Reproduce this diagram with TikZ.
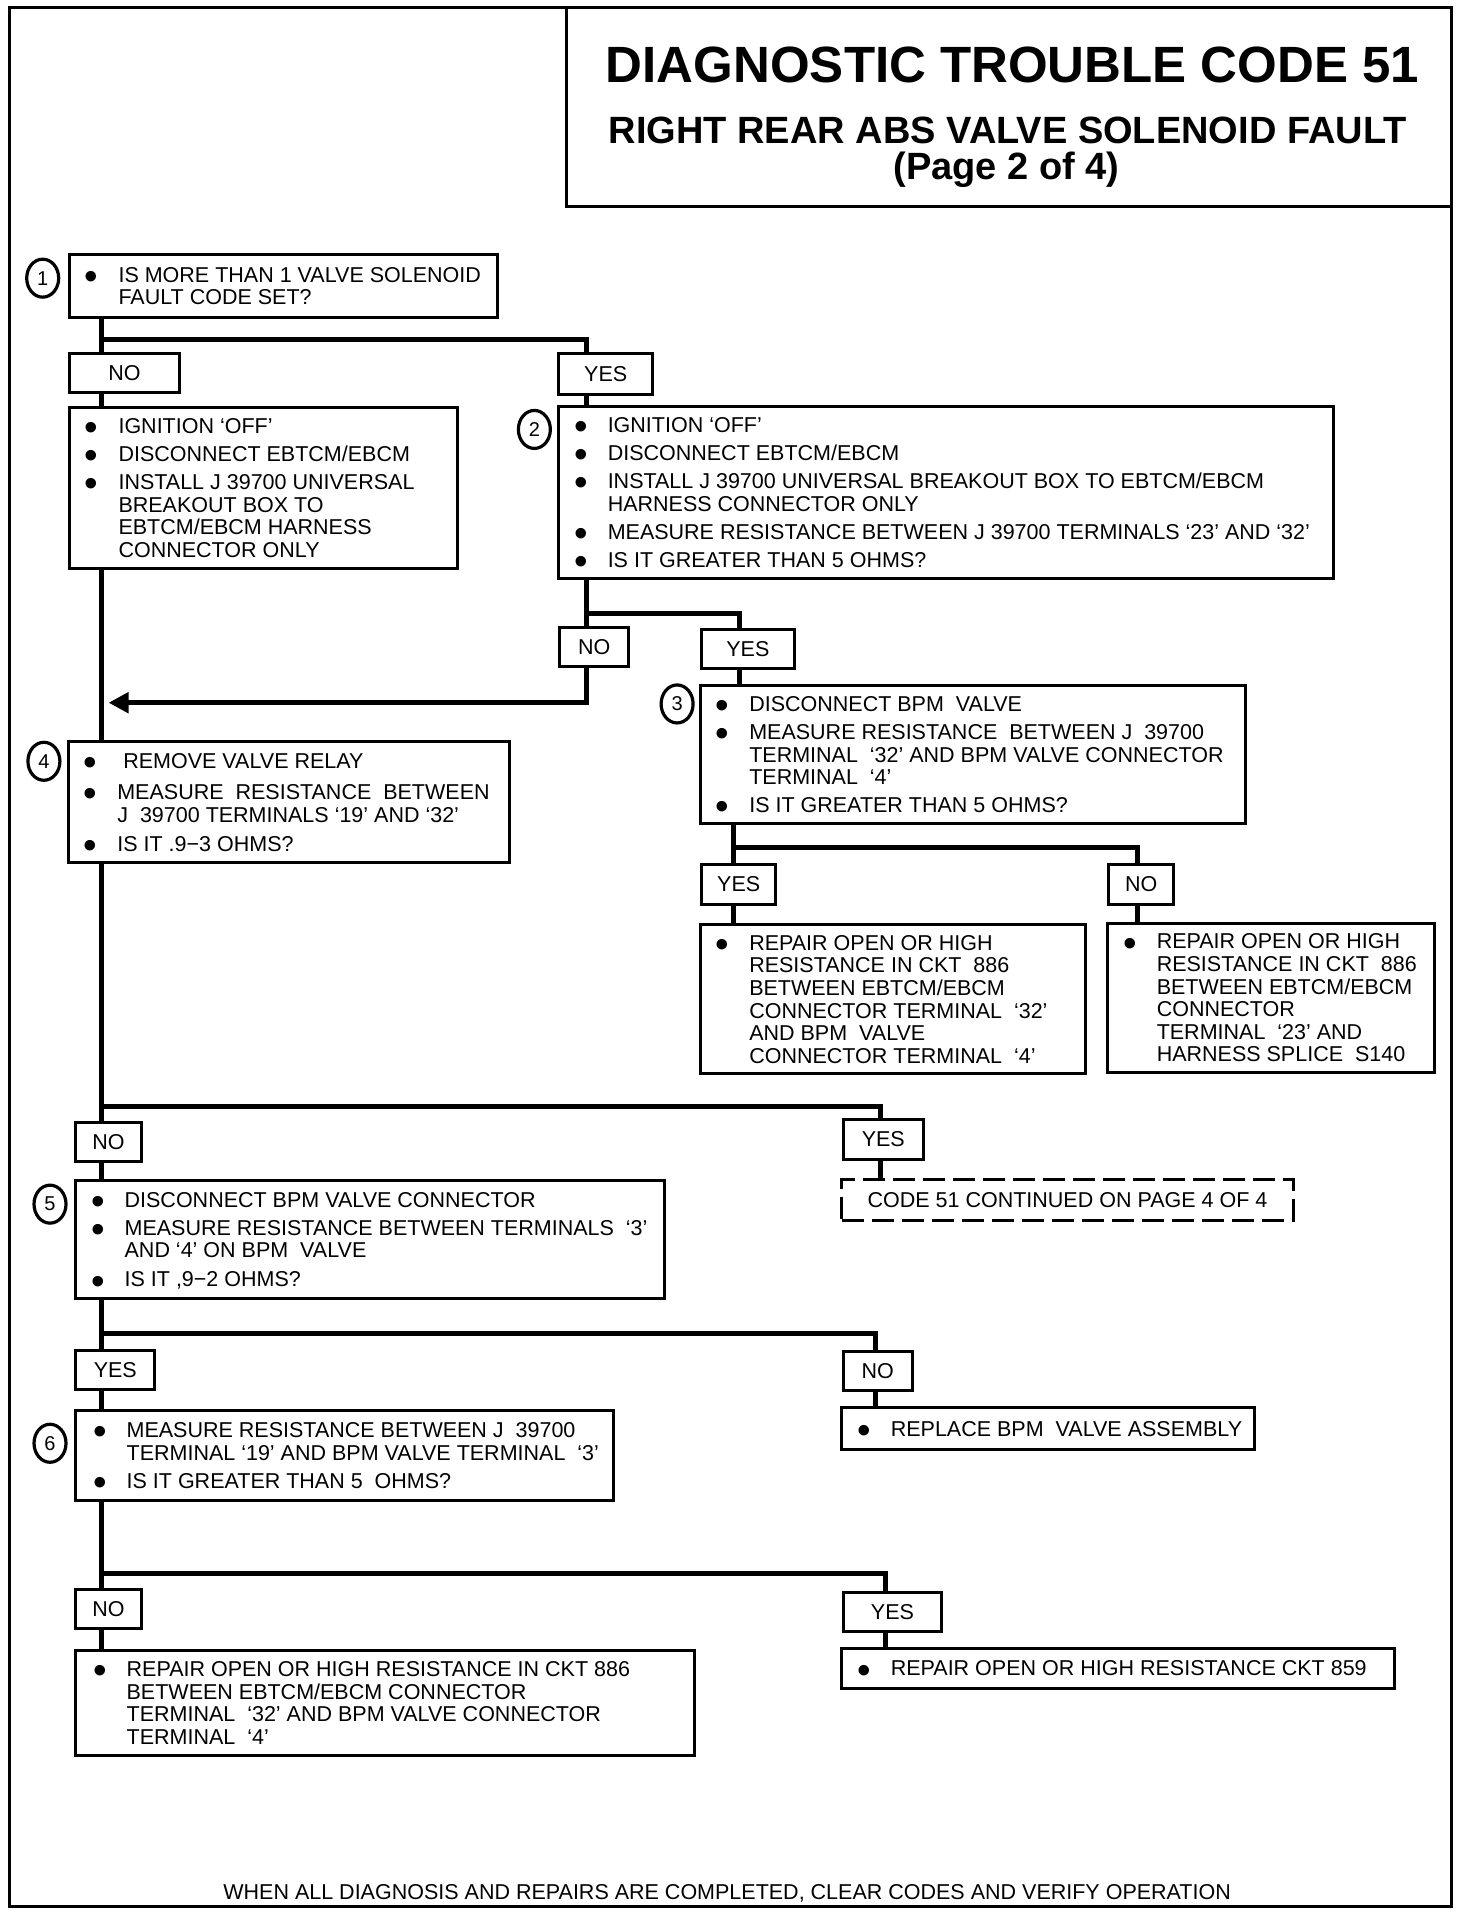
\documentclass[tikz,border=0pt]{standalone}
\usepackage{fontspec}
\setmainfont{Liberation Sans}
\usetikzlibrary{arrows.meta,shapes.geometric,backgrounds}
\newcommand\bul{\makebox[9pt]{\raisebox{-7.2pt}[0pt][0pt]{\scalebox{1.8}{\textbullet}}}}
\newcommand\bi{\makebox[31.3pt][l]{\bul}&}
\newcommand\bxt[1]{\begin{tabular}{@{}l@{}l@{}}#1\end{tabular}}
\tikzset{
  cell/.style args={#1/#2/#3/#4}{draw, line width=3pt, fill=white, anchor=north west,
    inner sep=0pt, outer sep=0pt, at={(#1,#2)},
    minimum width={(#3-#1)*1.22pt}, minimum height={(#4-#2)*1.22pt}},
  txt/.style={anchor=west, inner sep=0pt, align=left},
  num/.style={draw, ellipse, line width=3.2pt, minimum width=32pt, minimum height=38pt,
    inner sep=0pt, font=\fontsize{20}{20}\selectfont},
  conn/.style={line width=5pt},
  dashbox/.style={dash pattern=on 22pt off 8pt},
}
\begin{document}
\begin{tikzpicture}[x=1.22pt,y=-1.22pt,font=\fontsize{21.5}{22.6}\selectfont]
\useasboundingbox (0,0) rectangle (1206.6,1570.5);
% frame
\draw[line width=3pt] (7.5,6) rectangle (1189.5,1562.5);
% title
\node[cell=464/6/1189.5/169.5, fill=none] (tbox) {};
\node[anchor=base, font=\bfseries\fontsize{51}{51}\selectfont] (t1) at (830,68) {DIAGNOSTIC TROUBLE CODE 51};
\node[anchor=base, font=\bfseries\fontsize{38}{38}\selectfont] (t2) at (826,118) {RIGHT REAR ABS VALVE SOLENOID FAULT};
\node[anchor=base, font=\bfseries\fontsize{38}{38}\selectfont] (t3) at (825,147) {(Page 2 of 4)};

% step 1
\node[num] (n1) at (35,228) {1};
\node[cell=57/209/408/260] (b1) {};
\node[txt] (b1t) at ([xshift=17.5pt,yshift=-3pt]b1.west) {\bxt{\bi IS MORE THAN 1 VALVE SOLENOID\\ & FAULT CODE SET?}};
\node[cell=57/290/147/322] (no1) {NO};
\node[cell=458/290/535/323] (yes1) {YES};

\node[cell=57/334/375/466] (bA) {};
\node[txt] (bAt) at ([xshift=17.5pt,yshift=-3pt]bA.west) {\bxt{\bi IGNITION ‘OFF’\\[5.5pt]
\bi DISCONNECT EBTCM/EBCM\\[5.5pt]
\bi INSTALL J 39700 UNIVERSAL\\ & BREAKOUT BOX TO\\ & EBTCM/EBCM HARNESS\\ & CONNECTOR ONLY}};

% step 2
\node[num] (n2) at (438,352) {2};
\node[cell=458/333/1093/474] (b2) {};
\node[txt] (b2t) at ([xshift=17.5pt,yshift=-3pt]b2.west) {\bxt{\bi IGNITION ‘OFF’\\[5.5pt]
\bi DISCONNECT EBTCM/EBCM\\[5.5pt]
\bi INSTALL J 39700 UNIVERSAL BREAKOUT BOX TO EBTCM/EBCM\\ & HARNESS CONNECTOR ONLY\\[5.5pt]
\bi MEASURE RESISTANCE BETWEEN J 39700 TERMINALS ‘23’ AND ‘32’\\[5.5pt]
\bi IS IT GREATER THAN 5 OHMS?}};
\node[cell=459/514/515/546] (no2) {NO};
\node[cell=575/516/651/548] (yes2) {YES};

% step 3
\node[num] (n3) at (555,577) {3};
\node[cell=574/562/1021/675] (b3) {};
\node[txt] (b3t) at ([xshift=17.5pt,yshift=-3pt]b3.west) {\bxt{\bi DISCONNECT BPM~~VALVE\\[5.5pt]
\bi MEASURE RESISTANCE~~BETWEEN J~~39700\\ & TERMINAL~~‘32’ AND BPM VALVE CONNECTOR\\ & TERMINAL~~‘4’\\[5.5pt]
\bi IS IT GREATER THAN 5 OHMS?}};
\node[cell=575/709/636/741] (yes3) {YES};
\node[cell=909/709/962/741] (no3) {NO};
\node[cell=574/758/890/880] (r1) {};
\node[txt] (r1t) at ([xshift=17.5pt,yshift=-3pt]r1.west) {\bxt{\bi REPAIR OPEN OR HIGH\\ & RESISTANCE IN CKT~~886\\ & BETWEEN EBTCM/EBCM\\ & CONNECTOR TERMINAL~~‘32’\\ & AND BPM~~VALVE\\ & CONNECTOR TERMINAL~~‘4’}};
\node[cell=908/757/1176/879] (r2) {};
\node[txt] (r2t) at ([xshift=17.5pt,yshift=-3pt]r2.west) {\bxt{\bi REPAIR OPEN OR HIGH\\ & RESISTANCE IN CKT~~886\\ & BETWEEN EBTCM/EBCM\\ & CONNECTOR\\ & TERMINAL~~‘23’ AND\\ & HARNESS SPLICE~~S140}};

% step 4
\node[num] (n4) at (36,624) {4};
\node[cell=56/608/418/707] (b4) {};
\node[txt] (b4t) at ([xshift=17.5pt,yshift=-3pt]b4.west) {\bxt{\bi \hspace{6pt}REMOVE VALVE RELAY\\[9pt]
\bi MEASURE~~RESISTANCE~~BETWEEN\\ & J~~39700 TERMINALS ‘19’ AND ‘32’\\[6.5pt]
\bi IS IT .9−3 OHMS?}};
\node[cell=62/920/116/952] (no4) {NO};
\node[cell=691/918/757/950] (yes4) {YES};
\node[cell=690/967/1060/1000, dashbox] (dash) {CODE 51 CONTINUED ON PAGE 4 OF 4};

% step 5
\node[num] (n5) at (41,987) {5};
\node[cell=62/968/545/1064] (b5) {};
\node[txt] (b5t) at ([xshift=17.5pt,yshift=-3pt]b5.west) {\bxt{\bi DISCONNECT BPM VALVE CONNECTOR\\[5.5pt]
\bi MEASURE RESISTANCE BETWEEN TERMINALS~~‘3’\\ & AND ‘4’ ON BPM~~VALVE\\[6.5pt]
\bi IS IT ,9−2 OHMS?}};
\node[cell=62/1107/127/1139] (yes5) {YES};
\node[cell=691/1108/748/1140] (no5) {NO};
\node[cell=690/1154/1028/1188] (rep) {};
\node[txt] (rept) at ([xshift=17.5pt,yshift=-3pt]rep.west) {\bxt{\bi REPLACE BPM~~VALVE ASSEMBLY}};

% step 6
\node[num] (n6) at (41,1183) {6};
\node[cell=62/1156/503/1230] (b6) {};
\node[txt] (b6t) at ([xshift=19.5pt,yshift=-3pt]b6.west) {\bxt{\bi MEASURE RESISTANCE BETWEEN J~~39700\\ & TERMINAL ‘19’ AND BPM VALVE TERMINAL~~‘3’\\[5.5pt]
\bi IS IT GREATER THAN 5~~OHMS?}};
\node[cell=62/1303/116/1335] (no6) {NO};
\node[cell=691/1305/772/1337] (yes6) {YES};
\node[cell=62/1353/569/1439] (b7) {};
\node[txt] (b7t) at ([xshift=19.5pt,yshift=-3pt]b7.west) {\bxt{\bi REPAIR OPEN OR HIGH RESISTANCE IN CKT 886\\ & BETWEEN EBTCM/EBCM CONNECTOR\\ & TERMINAL~~‘32’ AND BPM VALVE CONNECTOR\\ & TERMINAL~~‘4’}};
\node[cell=690/1351/1143/1384] (r859) {};
\node[txt] (r859t) at ([xshift=17.5pt,yshift=-3pt]r859.west) {\bxt{\bi REPAIR OPEN OR HIGH RESISTANCE CKT 859}};

% footer
\node[anchor=base] (foot) at (596,1557) {WHEN ALL DIAGNOSIS AND REPAIRS ARE COMPLETED, CLEAR CODES AND VERIFY OPERATION};

% connectors
\coordinate (j1) at (83,278);  \coordinate (c1) at (481,278);
\coordinate (j2) at (481,503); \coordinate (c2) at (606,503);
\coordinate (c3) at (481,576); \coordinate (tip) at (89,576);
\coordinate (j3) at (601,695); \coordinate (c4) at (932,695);
\coordinate (j4) at (83,907);  \coordinate (c5) at (722,907);
\coordinate (j5) at (83,1093); \coordinate (c6) at (718,1093);
\coordinate (j6) at (83,1290); \coordinate (c7) at (726,1290);
\begin{scope}[on background layer]
\fill[white] (0,0) rectangle (1206.6,1570.5);
\draw[conn] (b1.south -| j1) -- (b7.north -| j1);
\draw[conn] (j1) -- (c1) -- (b2.north -| c1);
\draw[conn,-{Triangle[length=20pt,width=20pt]}] (b2.south -| j2) -- (c3) -- (tip);
\draw[conn] (j2) -- (c2) -- (b3.north -| c2);
\draw[conn] (b3.south -| j3) -- (r1.north -| j3);
\draw[conn] (j3) -- (c4) -- (r2.north -| c4);
\draw[conn] (j4) -- (c5) -- (dash.north -| c5);
\draw[conn] (j5) -- (c6) -- (rep.north -| c6);
\draw[conn] (j6) -- (c7) -- (r859.north -| c7);
\end{scope}
\end{tikzpicture}
\end{document}
